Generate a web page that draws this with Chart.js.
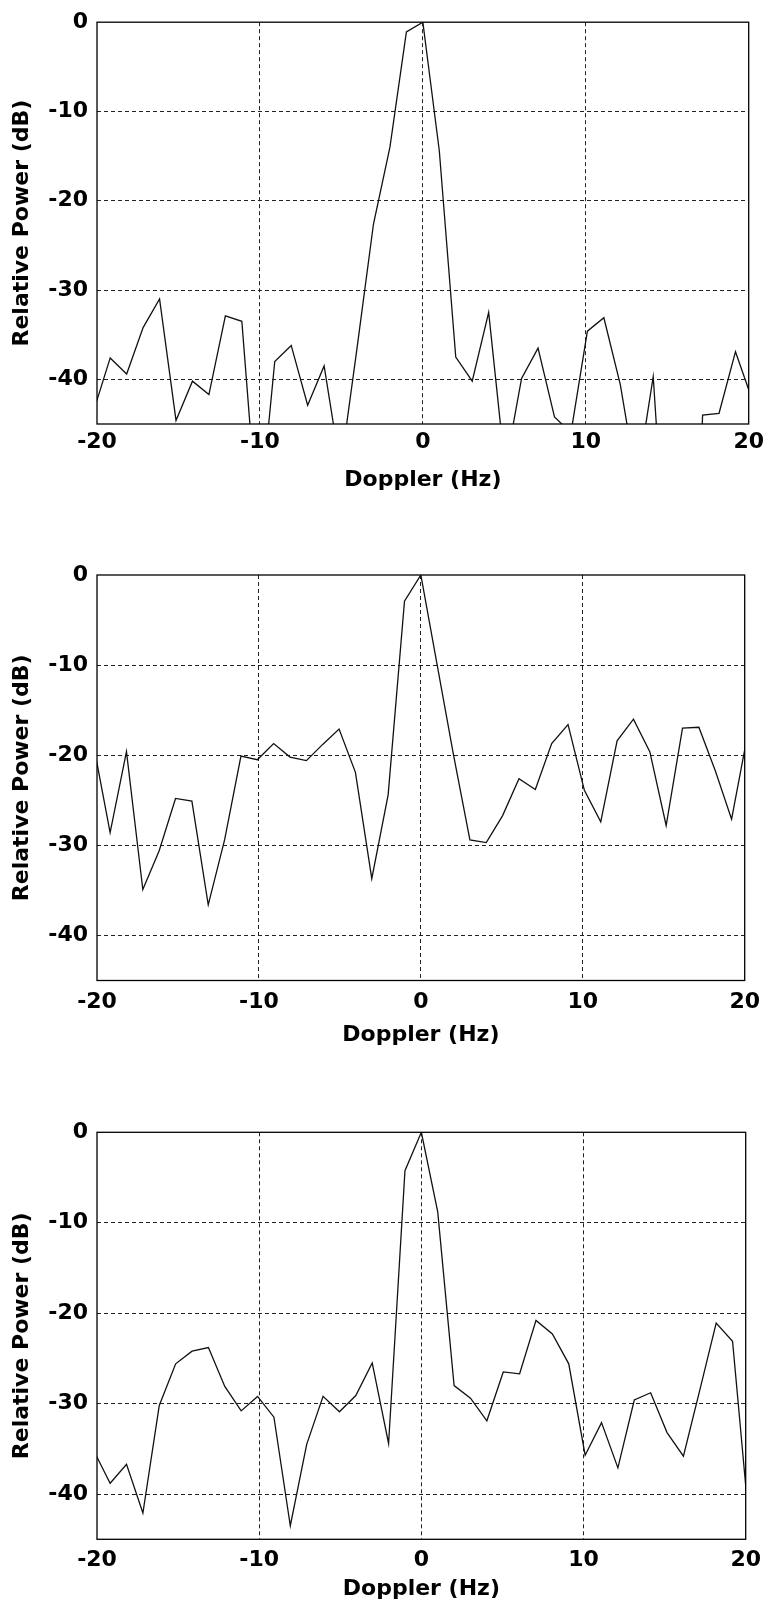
<!DOCTYPE html>
<html>
<head>
<meta charset="utf-8">
<script src="https://cdn.jsdelivr.net/npm/chart.js@4.4.1/dist/chart.umd.min.js"></script>
<style>
  html, body { margin: 0; padding: 0; background: #ffffff; }
  body { width: 769px; height: 1612px; position: relative; overflow: hidden; }
  canvas { position: absolute; left: 0; }
</style>
</head>
<body>
<canvas id="panelA" width="769" height="520" style="top:0px"></canvas>
<canvas id="panelB" width="769" height="540" style="top:540px"></canvas>
<canvas id="panelC" width="769" height="522" style="top:1090px"></canvas>
<script>
// Doppler frequency bins (Hz)
const dopplerHz = [-20.2, -19.19, -18.18, -17.17, -16.16, -15.15, -14.14, -13.13, -12.12, -11.11,
                   -10.1, -9.09, -8.08, -7.07, -6.06, -5.05, -4.04, -3.03, -2.02, -1.01,
                   0, 1.01, 2.02, 3.03, 4.04, 5.05, 6.06, 7.07, 8.08, 9.09,
                   10.1, 11.11, 12.12, 13.13, 14.14, 15.15, 16.16, 17.17, 18.18, 19.19, 20.2];

// Relative power spectra (dB), one per panel
const powerA = [-43.5, -37.6, -39.4, -34.2, -31.0, -44.6, -40.2, -41.7, -32.9, -33.5,
                -57.0, -38.0, -36.2, -42.9, -38.5, -50.0, -36.5, -22.6, -14.0, -1.1,
                0, -14.4, -37.5, -40.2, -32.5, -50.0, -39.9, -36.5, -44.2, -46.0,
                -34.6, -33.1, -40.6, -51.5, -39.7, -68.0, -95.0, -44.0, -43.8, -36.9, -42.2];

const powerB = [-19.0, -28.6, -19.6, -34.9, -30.6, -24.8, -25.1, -36.6, -29.4, -20.1,
                -20.5, -18.7, -20.2, -20.6, -18.8, -17.1, -21.9, -33.7, -24.4, -2.9,
                0, -10.0, -20.0, -29.4, -29.7, -26.7, -22.6, -23.8, -18.7, -16.6,
                -23.9, -27.4, -18.4, -16.0, -19.6, -27.8, -17.0, -16.9, -21.7, -27.1, -17.5];

const powerC = [-35.2, -38.8, -36.7, -42.1, -30.2, -25.6, -24.2, -23.8, -28.1, -30.8,
                -29.2, -31.5, -43.5, -34.5, -29.2, -30.9, -29.1, -25.5, -34.4, -4.25,
                0, -8.8, -28.0, -29.4, -31.9, -26.5, -26.7, -20.8, -22.3, -25.6,
                -35.7, -32.1, -37.1, -29.6, -28.8, -33.2, -35.8, -28.5, -21.1, -23.1, -43.0];

// Axis ticks and titles
const xTicks = [-20, -10, 0, 10, 20];
const yTicks = [0, -10, -20, -30, -40];
const xRange = [-20, 20];
const yRange = [-45, 0];
const xTitle = 'Doppler (Hz)';
const yTitle = 'Relative Power (dB)';

const FONT = { family: '"DejaVu Sans", sans-serif', size: 22, weight: 'bold', lineHeight: 1.2 };

// Solid frame around the plotting area
const framePlugin = {
  id: 'frame',
  afterDraw(chart) {
    const { ctx, chartArea: a } = chart;
    ctx.save();
    ctx.strokeStyle = '#000';
    ctx.lineWidth = 1.3;
    ctx.strokeRect(a.left, a.top, a.right - a.left, a.bottom - a.top);
    ctx.restore();
  }
};

function edgeTransparent(min, max) {
  return (c) => (c.tick && (c.tick.value === min || c.tick.value === max)) ? 'rgba(0,0,0,0)' : '#222';
}

function makePanel(id, values, g) {
  const canvas = document.getElementById(id);
  const H = canvas.height;
  new Chart(canvas, {
    type: 'line',
    data: {
      datasets: [{
        data: dopplerHz.map((x, i) => ({ x, y: values[i] })),
        borderColor: '#111',
        borderWidth: 1.3,
        pointRadius: 0,
        tension: 0,
        fill: false,
        clip: 0
      }]
    },
    options: {
      responsive: false,
      animation: false,
      events: [],
      layout: { padding: { top: g.padTop, right: 18, bottom: 0, left: 0 } },
      plugins: { legend: { display: false }, tooltip: { enabled: false } },
      scales: {
        x: {
          type: 'linear',
          min: xRange[0], max: xRange[1],
          afterBuildTicks: (s) => { s.ticks = xTicks.map(v => ({ value: v })); },
          afterFit: (s) => { s.height = H - g.areaBottom; },
          ticks: { font: FONT, color: '#000', padding: g.tickPad, maxRotation: 0, autoSkip: false },
          grid: { color: edgeTransparent(xRange[0], xRange[1]), lineWidth: 1, drawTicks: false },
          border: { display: false, dash: [4, 3] },
          title: { display: true, text: xTitle, font: FONT, color: '#000',
                   padding: { top: 0, bottom: g.titlePad } }
        },
        y: {
          type: 'linear',
          min: yRange[0], max: yRange[1],
          afterBuildTicks: (s) => { s.ticks = yTicks.map(v => ({ value: v })); },
          afterFit: (s) => { s.width = 97; },
          ticks: { font: FONT, color: '#000', padding: 9, autoSkip: false },
          grid: { color: edgeTransparent(yRange[0], yRange[1]), lineWidth: 1, drawTicks: false },
          border: { display: false, dash: [4, 3] },
          title: { display: true, text: yTitle, font: FONT, color: '#000',
                   padding: { top: 9, bottom: 0 } }
        }
      }
    },
    plugins: [framePlugin]
  });
}

makePanel('panelA', powerA, { padTop: 19, areaBottom: 424, tickPad: 5, titlePad: 27 });
makePanel('panelB', powerB, { padTop: 35, areaBottom: 440.5, tickPad: 9, titlePad: 32 });
makePanel('panelC', powerC, { padTop: 42.3, areaBottom: 449.3, tickPad: 8, titlePad: 10 });
</script>
</body>
</html>
